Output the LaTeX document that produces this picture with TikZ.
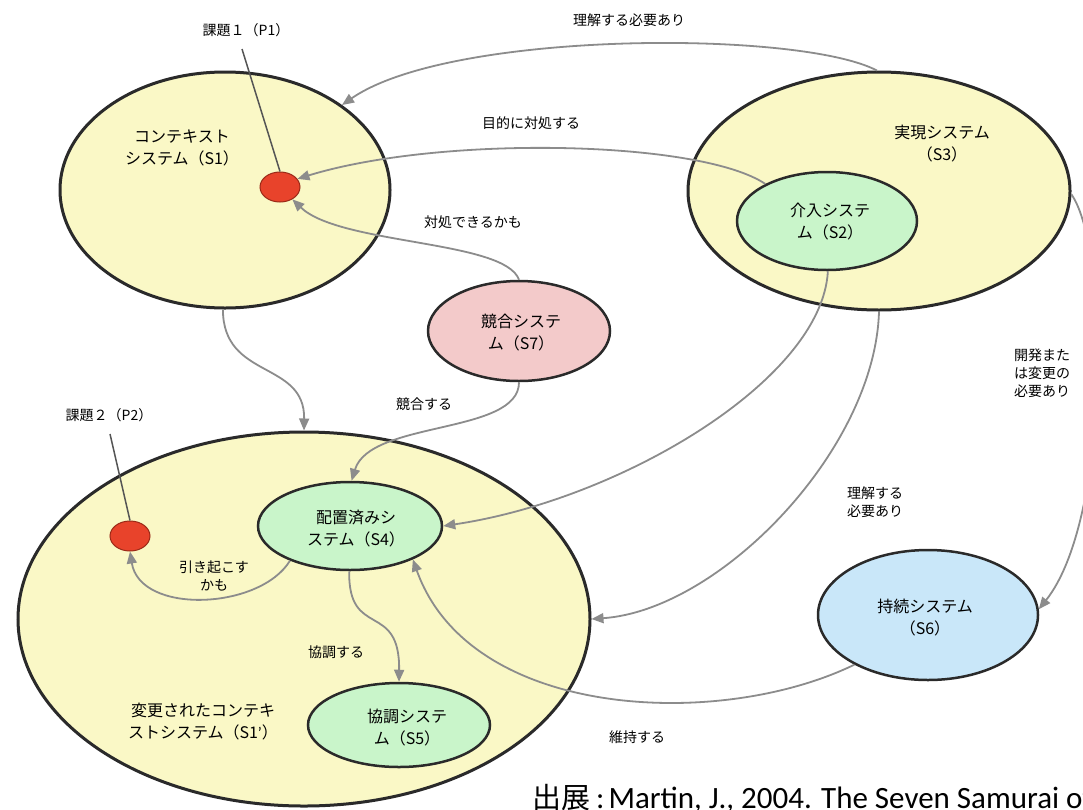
\documentclass[tikz,border=0pt]{standalone}
\usepackage{fontspec}
\setmainfont{Noto Sans CJK JP}
\newfontfamily\latinfont{Carlito}
\usetikzlibrary{shapes.geometric,arrows.meta}
\definecolor{edgecol}{HTML}{2A2A2A}
\definecolor{yellowfill}{HTML}{FAF8C6}
\definecolor{greenfill}{HTML}{C9F5CA}
\definecolor{pinkfill}{HTML}{F3CACA}
\definecolor{bluefill}{HTML}{C9E7F9}
\definecolor{probred}{HTML}{E8432B}
\definecolor{probedge}{HTML}{9A2A18}
\definecolor{conncol}{HTML}{8C8C8C}
\definecolor{leadcol}{HTML}{555555}
\begin{document}
\begin{tikzpicture}[x=1pt,y=-1pt,
  bigsys/.style={ellipse, draw=edgecol, line width=3pt, fill=yellowfill, inner sep=0},
  subsys/.style={ellipse, draw=edgecol, line width=2.5pt, inner sep=0},
  prob/.style={ellipse, draw=probedge, fill=probred, line width=1pt, minimum width=40, minimum height=30, inner sep=0},
  conn/.style={draw=conncol, line width=1.8pt, -{Triangle[length=12pt,width=10pt]}},
  lead/.style={draw=leadcol, line width=1.5pt},
  systext/.style={font=\fontsize{16}{22}\selectfont, align=center, inner sep=0},
  lbl/.style={font=\fontsize{14}{18}\selectfont, align=center, inner sep=0}]
\useasboundingbox (0,0) rectangle (1083,809);
\clip (0,0) rectangle (1083,809);
\fill[white] (0,0) rectangle (1083,809);

% systems
\node[bigsys, minimum width=330, minimum height=236] (S1) at (225,190) {};
\node[bigsys, minimum width=382, minimum height=238] (S3) at (879,191) {};
\node[subsys, fill=greenfill, minimum width=180, minimum height=98] (S2) at (827,221) {};
\node[subsys, fill=pinkfill, minimum width=182, minimum height=100] (S7) at (519,331) {};
\node[bigsys, minimum width=572, minimum height=374] (S1b) at (304,619) {};
\node[subsys, fill=greenfill, minimum width=184, minimum height=88] (S4) at (350,526) {};
\node[subsys, fill=greenfill, minimum width=182, minimum height=84] (S5) at (399,725) {};
\node[subsys, fill=bluefill, minimum width=220, minimum height=130] (S6) at (928,615) {};
\node[prob] (P1) at (280,187) {};
\node[prob] (P2) at (130,536) {};

% system texts
\node[systext] (T1) at (182,148) {コンテキスト\\システム（S1）};
\node[systext] (T3) at (942,144) {実現システム\\（S3）};
\node[systext] (T2) at (830,222) {介入システ\\ム（S2）};
\node[systext] (T7) at (521,333) {競合システ\\ム（S7）};
\node[systext] (T4) at (356,529) {配置済みシ\\ステム（S4）};
\node[systext] (T5) at (407,728) {協調システ\\ム（S5）};
\node[systext] (T6) at (925,618) {持続システム\\（S6）};
\node[systext] (T1b) at (203,722) {変更されたコンテキ\\ストシステム（S1{\latinfont ’}）};

% labels
\node[lbl] (LP1) at (246,30) {課題１（P1）};
\node[lbl] (LP2) at (109,415) {課題２（P2）};
\node[lbl] (La) at (629,20) {理解する必要あり};
\node[lbl] (Lb) at (531,123) {目的に対処する};
\node[lbl] (Lc) at (473,222) {対処できるかも};
\node[lbl] (Ld) at (424,404) {競合する};
\node[lbl] (Le) at (1042,373) {開発また\\は変更の\\必要あり};
\node[lbl] (Lf) at (875,502) {理解する\\必要あり};
\node[lbl] (Lg) at (637,737) {維持する};
\node[lbl] (Lh) at (336,652) {協調する};
\node[lbl] (Li) at (214,576) {引き起こす\\かも};

% citation
\node[anchor=base west, inner sep=0, font=\fontsize{29}{34}\selectfont] (cite) at (532,808)
  {出展\hspace{6pt}{\latinfont\fontsize{31}{34}\selectfont :\hspace{4pt}Martin, J., 2004. The Seven Samurai of}};

% leader lines
\coordinate (p1lead) at (242,49);
\coordinate (p2lead) at (110,434);
\draw[lead] (p1lead) -- (P1.north);
\draw[lead] (p2lead) -- (P2.north);

% connectors
\draw[conn] (S3.91) .. controls (800,30) and (450,30) .. (S1.36);
\draw[conn] (S2.149) .. controls (700,140) and (440,135) .. (P1.25);
\draw[conn] (S7.90) .. controls (505,240) and (340,245) .. (P1.-45);
\draw[conn] (S1.-91) .. controls (223,380) and (305,360) .. (S1b.90);
\draw[conn] (S7.-90) .. controls (519,435) and (370,420) .. (S4.88);
\draw[conn] (S2.-89) .. controls (822,380) and (620,500) .. (S4.0);
\draw[conn] (S3.-90) .. controls (875,450) and (720,610) .. (S1b.0);
\draw[conn] (S3.-1) .. controls (1110,250) and (1110,520) .. (S6.3);
\draw[conn] (S6.214) .. controls (720,730) and (470,720) .. (S4.-28);
\draw[conn] (S4.210) .. controls (260,610) and (140,615) .. (P2.-90);
\draw[conn] (S4.-91) .. controls (348,640) and (400,600) .. (S5.90);
\end{tikzpicture}
\end{document}
